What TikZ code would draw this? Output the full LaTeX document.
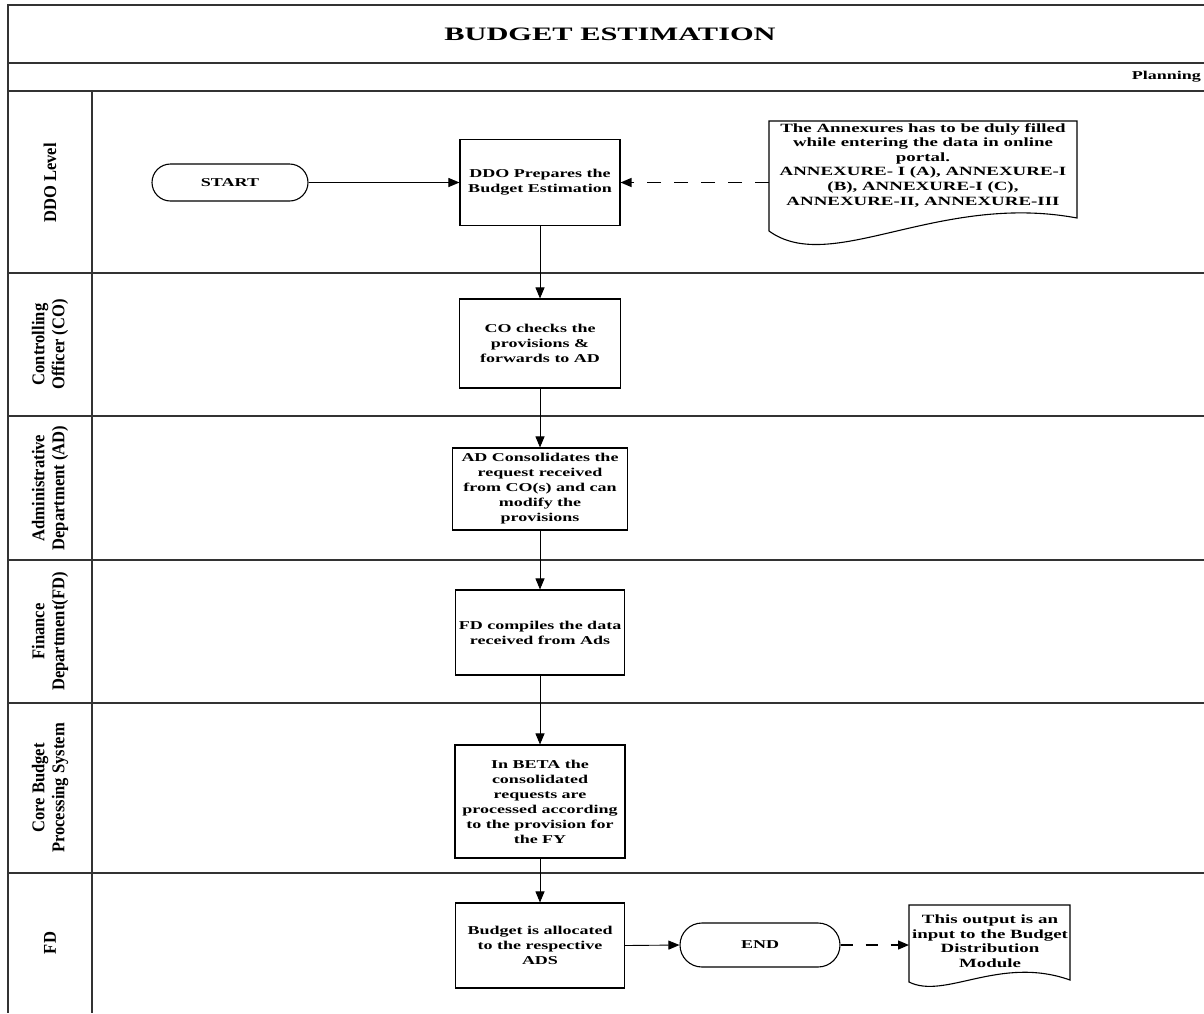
\documentclass[tikz,border=0pt]{standalone}
\usepackage{fontspec}
\setmainfont{Liberation Serif}
\newfontfamily\widefont[FakeStretch=1.5]{Liberation Serif}
\newfontfamily\titlefont[FakeStretch=1.6]{Liberation Serif}
\newfontfamily\lanefont[FakeStretch=0.92]{Liberation Serif}
\usetikzlibrary{arrows.meta,shapes.misc}
\newcommand\boxtext{\widefont\bfseries\fontsize{12}{15}\selectfont}
\newcommand\doctext{\widefont\bfseries\fontsize{12.6}{14.6}\selectfont}
\newcommand\lanetext{\lanefont\bfseries\fontsize{18}{20}\selectfont}
\tikzset{
  frame/.style={draw=black!80, line width=1.8pt},
  procbox/.style={draw, line width=1.1pt, align=center, inner sep=0pt, font=\boxtext},
  terminal/.style={draw, line width=1.1pt, rounded rectangle, inner sep=0pt, font=\boxtext},
  docbody/.style={inner sep=0pt, outer sep=0pt},
  docline/.style={draw, line width=1.1pt},
  lanelabel/.style={rotate=90, align=center, font=\lanetext, inner sep=0pt},
  arr/.style={line width=0.9pt, -{Triangle[length=11pt,width=9pt]}},
  dasharr/.style={arr, line width=1.3pt, dash pattern=on 14pt off 13pt},
  dasharrb/.style={arr, line width=1.3pt, dash pattern=on 12pt off 13pt}
}
\begin{document}
\begin{tikzpicture}[x=1pt,y=-1pt]
\useasboundingbox (0,0) rectangle (1204,1013);

% table frame and swim lanes
\draw[frame] (1204,5) -- (8,5) -- (8,1013);
\foreach \yy in {63,91,273,416,560,703,873} \draw[frame] (8,\yy) -- (1204,\yy);
\draw[frame] (92,91) -- (92,1013);

\node[font={\titlefont\bfseries\fontsize{19}{22}\selectfont}] (title) at (610,34) {BUDGET ESTIMATION};
\node[font=\boxtext, anchor=east, inner sep=0pt] (planning) at (1201,77) {Planning};

% lane labels
\node[lanelabel] (l1) at (50,183) {DDO Level};
\node[lanelabel] (l2) at (50,344.5) {Controlling\\Officer (CO)};
\node[lanelabel] (l3) at (50,488) {Administrative\\Department (AD)};
\node[lanelabel] (l4) at (50,631.5) {Finance\\Department(FD)};
\node[lanelabel] (l5) at (50,788) {Core Budget\\Processing System};
\node[lanelabel] (l6) at (50,943) {FD};

% process steps
\node[terminal, minimum width=156pt, minimum height=37pt] (start) at (230,182.5) {START};
\node[procbox, minimum width=160pt, minimum height=86pt] (ddo) at (540,182.5) {DDO Prepares the\\Budget Estimation};
\node[procbox, minimum width=161pt, minimum height=89pt] (co) at (540,343.5) {CO checks the\\provisions \&\\forwards to AD};
\node[procbox, minimum width=175pt, minimum height=82pt] (ad) at (540,489) {AD Consolidates the\\request received\\from CO(s) and can\\modify the\\provisions};
\node[procbox, minimum width=169pt, minimum height=85pt] (fd) at (540,632.5) {FD compiles the data\\received from Ads};
\node[procbox, minimum width=170pt, minimum height=113pt] (beta) at (540,801.5) {In BETA the\\consolidated\\requests are\\processed according\\to the provision for\\the FY};
\node[procbox, minimum width=169pt, minimum height=85pt] (budget) at (540,945.5) {Budget is allocated\\to the respective\\ADS};
\node[terminal, minimum width=160pt, minimum height=44pt] (end) at (760,945) {END};

% annexure document
\node[docbody, minimum width=308pt, minimum height=97pt, anchor=north west] (ann) at (769,121) {};
\draw[docline] (ann.north west) -- (ann.north east) -- (ann.south east)
  .. controls (938,192) and (831,276) .. (769,231) -- cycle;
\node[font=\doctext, align=center, anchor=north, inner sep=0pt] (anntext) at (923,123)
  {The Annexures has to be duly filled\\while entering the data in online\\portal.\\ANNEXURE- I (A), ANNEXURE-I\\(B), ANNEXURE-I (C),\\ANNEXURE-II, ANNEXURE-III};

% output document
\node[docbody, minimum width=161pt, minimum height=75pt, anchor=north west] (outdoc) at (909,905) {};
\draw[docline] (outdoc.north west) -- (outdoc.north east) -- (outdoc.south east)
  .. controls (1000,955) and (945,1000) .. (909,982) -- cycle;
\node[font=\doctext, align=center, inner sep=0pt] (outtext) at (990,941)
  {This output is an\\input to the Budget\\Distribution\\Module};

% connectors
\draw[arr] (start.east) -- (ddo.west);
\draw[dasharr] (ann.west |- ddo.east) -- (ddo.east);
\draw[arr] (ddo.south) -- (co.north);
\draw[arr] (co.south) -- (ad.north);
\draw[arr] (ad.south) -- (fd.north);
\draw[arr] (fd.south) -- (beta.north);
\draw[arr] (beta.south) -- (budget.north);
\draw[arr] (budget.east) -- (end.west);
\draw[dasharrb] (end.east) -- (end.east -| outdoc.west);
\end{tikzpicture}
\end{document}
